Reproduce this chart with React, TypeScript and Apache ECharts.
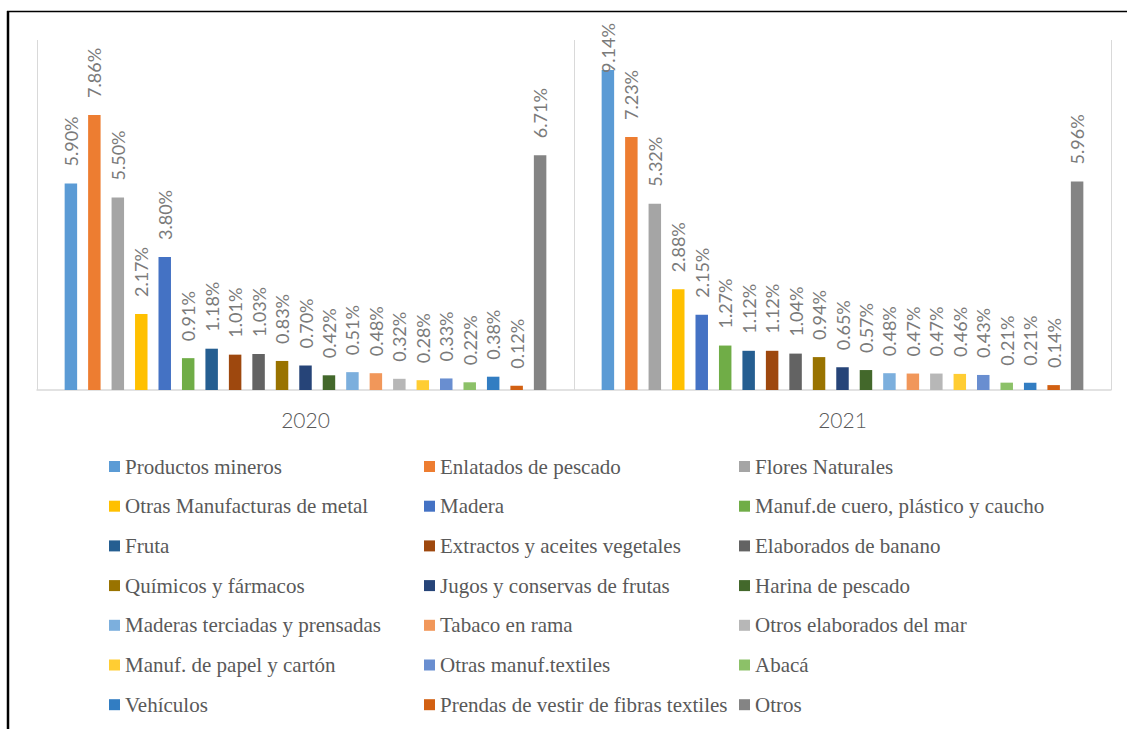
import React, { useEffect, useRef } from "react";
import * as echarts from "echarts";

const years = ["2020", "2021"];

const names = [
  "Productos mineros",
  "Enlatados de pescado",
  "Flores Naturales",
  "Otras Manufacturas de metal",
  "Madera",
  "Manuf.de cuero, plástico y caucho",
  "Fruta",
  "Extractos y aceites vegetales",
  "Elaborados de banano",
  "Químicos y fármacos",
  "Jugos y conservas de frutas",
  "Harina de pescado",
  "Maderas terciadas y prensadas",
  "Tabaco en rama",
  "Otros elaborados del mar",
  "Manuf. de papel y cartón",
  "Otras manuf.textiles",
  "Abacá",
  "Vehículos",
  "Prendas de vestir de fibras textiles",
  "Otros",
];

const values2020 = [5.9, 7.86, 5.5, 2.17, 3.8, 0.91, 1.18, 1.01, 1.03, 0.83, 0.7, 0.42, 0.51, 0.48, 0.32, 0.28, 0.33, 0.22, 0.38, 0.12, 6.71];
const values2021 = [9.14, 7.23, 5.32, 2.88, 2.15, 1.27, 1.12, 1.12, 1.04, 0.94, 0.65, 0.57, 0.48, 0.47, 0.47, 0.46, 0.43, 0.21, 0.21, 0.14, 5.96];

const colors = [
  "#5B9BD5", "#ED7D31", "#A5A5A5", "#FFC000", "#4472C4", "#70AD47", "#255E91",
  "#9E480E", "#636363", "#997300", "#264478", "#43682B", "#7CAFDD", "#F1975A",
  "#B7B7B7", "#FFCD33", "#698ED0", "#8CC168", "#327DC2", "#D26012", "#848484",
];

const legendLefts = [109, 424, 739];
const serif = "'Liberation Serif', 'Times New Roman', serif";

export default function App() {
  const ref = useRef<HTMLDivElement>(null);
  useEffect(() => {
    if (!ref.current) return;
    const chart = echarts.init(ref.current, null, { renderer: "svg" });
    const series = names.map((name, i) => ({
      name,
      type: "bar",
      barGap: "88%",
      barCategoryGap: "10.3%",
      itemStyle: { color: colors[i] },
      data: [
        { value: values2020[i] },
        i === 0
          ? { value: values2021[i], label: { distance: -3 } }
          : { value: values2021[i] },
      ],
      label: {
        show: true,
        position: "top",
        rotate: 90,
        align: "left",
        verticalAlign: "middle",
        distance: 17,
        fontFamily: "Lato",
        fontSize: 18,
        color: "#7a7a7a",
        formatter: (p: any) => Number(p.value).toFixed(2) + "%",
      },
    }));
    chart.setOption({
      animation: false,
      backgroundColor: "#ffffff",
      grid: { left: 37, right: 16, top: 40, bottom: 339, containLabel: false },
      xAxis: {
        type: "category",
        data: years,
        axisTick: { show: false },
        axisLine: { show: true, lineStyle: { color: "#d9d9d9", width: 1.5 } },
        splitLine: { show: true, lineStyle: { color: "#d9d9d9", width: 1 } },
        axisLabel: {
          margin: 19,
          fontFamily: "Lato",
          fontWeight: 300,
          fontSize: 21,
          color: "#595959",
        },
      },
      yAxis: {
        type: "value",
        min: 0,
        max: 10,
        show: false,
        splitLine: { show: false },
      },
      legend: legendLefts.map((left, c) => ({
        orient: "vertical",
        left,
        top: 456,
        padding: 0,
        itemWidth: 11,
        itemHeight: 11,
        itemGap: 18.7,
        icon: "rect",
        selectedMode: false,
        data: names.filter((_, i) => i % 3 === c),
        textStyle: {
          fontFamily: serif,
          fontSize: 21,
          color: "#595959",
        },
      })),
      graphic: [
        {
          type: "line",
          shape: { x1: 8, y1: 11, x2: 8, y2: 729 },
          style: { stroke: "#000000", lineWidth: 2.5 },
        },
        {
          type: "line",
          shape: { x1: 7, y1: 11.5, x2: 1127, y2: 11.5 },
          style: { stroke: "#000000", lineWidth: 1.5 },
        },
      ],
      series,
    });
    return () => chart.dispose();
  }, []);
  return (
    <div
      ref={ref}
      style={{ position: "absolute", left: 0, top: 0, width: 1127, height: 729 }}
    />
  );
}
